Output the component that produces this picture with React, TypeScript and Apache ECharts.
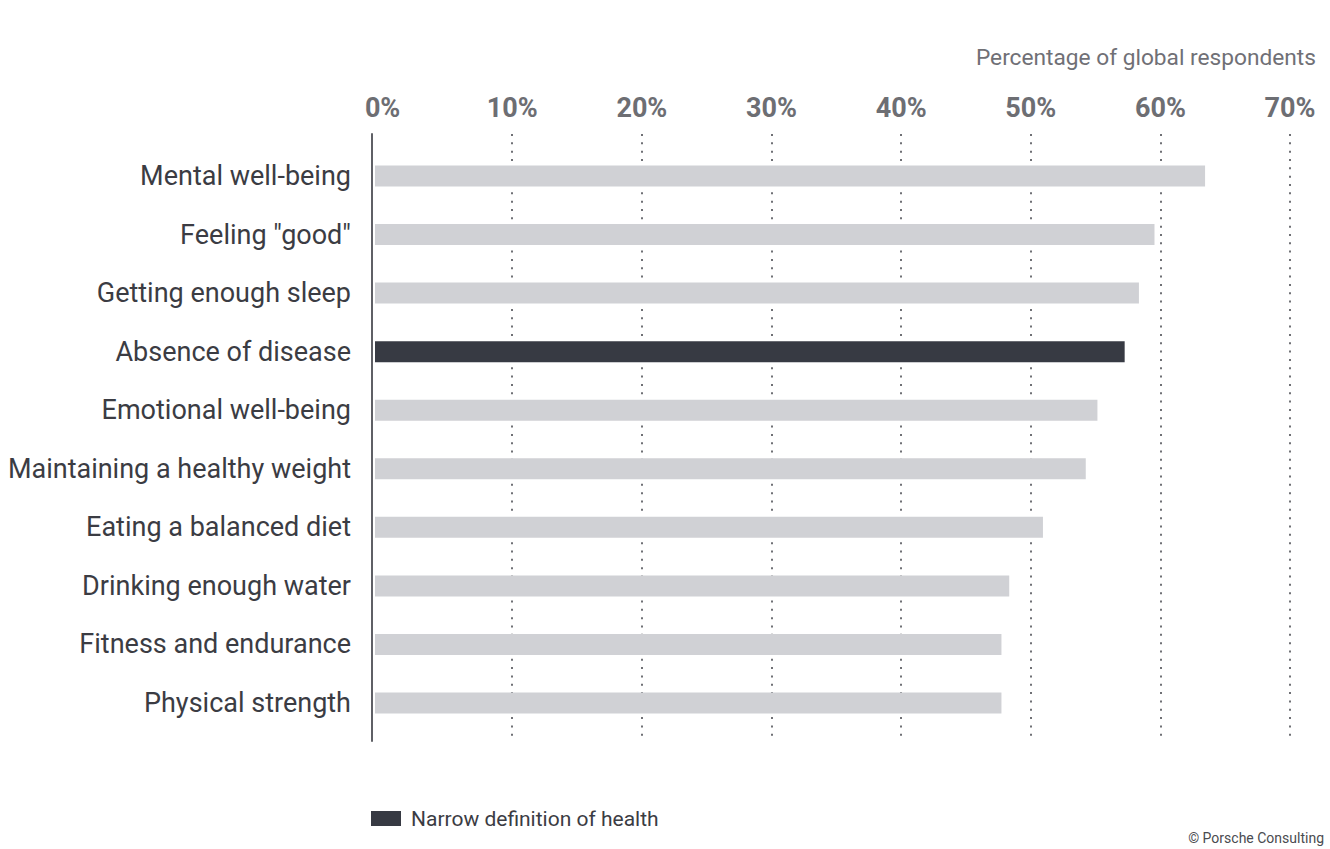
import React, { useEffect, useRef } from "react";
import * as echarts from "echarts";

const categories = [
  "Mental well-being",
  'Feeling "good"',
  "Getting enough sleep",
  "Absence of disease",
  "Emotional well-being",
  "Maintaining a healthy weight",
  "Eating a balanced diet",
  "Drinking enough water",
  "Fitness and endurance",
  "Physical strength",
];
const values = [64.0, 60.1, 58.9, 57.8, 55.7, 54.8, 51.5, 48.9, 48.3, 48.3];
const narrowCategories = ["Absence of disease"];
const narrowLabel = "Narrow definition of health";
const axisTitle = "Percentage of global respondents";
const credit = "© Porsche Consulting";
const axisMin = 0;
const axisMax = 70;
const axisStep = 10;

const FONT = "Roboto, 'Noto Sans', sans-serif";

export default function App() {
  const ref = useRef<HTMLDivElement>(null);
  useEffect(() => {
    document.body.style.margin = "0";
    if (!ref.current) return;
    const chart = echarts.init(ref.current, null, { renderer: "svg" });
    const otherData = values.map((v, i) =>
      narrowCategories.includes(categories[i]) ? "-" : v
    );
    const narrowData = values.map((v, i) =>
      narrowCategories.includes(categories[i]) ? v : "-"
    );
    chart.setOption({
      animation: false,
      backgroundColor: "#ffffff",
      textStyle: { fontFamily: FONT },
      title: [
        {
          text: axisTitle,
          right: 9,
          top: 41,
          textStyle: {
            fontFamily: FONT,
            fontWeight: "normal",
            fontSize: 22.7,
            color: "#707076",
          },
        },
        {
          text: credit,
          right: 1,
          top: 826,
          textStyle: {
            fontFamily: FONT,
            fontWeight: "normal",
            fontSize: 14,
            color: "#4a4b50",
          },
        },
      ],
      legend: {
        left: 366,
        top: 803,
        icon: "rect",
        itemWidth: 30,
        itemHeight: 15,
        data: [narrowLabel],
        textStyle: {
          fontFamily: FONT,
          fontSize: 21,
          color: "#3b3c43",
          padding: [0, 0, 0, 5],
        },
      },
      grid: [
        { left: 382.6, right: 40, top: 134, bottom: 108 },
        { left: 375, right: 47.1, top: 146.7, bottom: 116.7 },
      ],
      xAxis: [
        {
          gridIndex: 0,
          type: "value",
          position: "top",
          min: axisMin,
          max: axisMax,
          interval: axisStep,
          axisLine: { show: false },
          axisTick: { show: false },
          axisLabel: {
            formatter: "{value}%",
            fontFamily: FONT,
            fontWeight: "bold",
            fontSize: 27,
            color: "#6d6e73",
            margin: 13,
          },
          splitLine: {
            show: true,
            showMinLine: false,
            lineStyle: { color: "#6f7075", width: 2, type: [2, 6.33] },
          },
        },
        {
          gridIndex: 1,
          type: "value",
          min: axisMin,
          max: axisMax,
          show: false,
          splitLine: { show: false },
        },
      ],
      yAxis: [
        {
          gridIndex: 0,
          type: "value",
          min: 0,
          max: 1,
          offset: 10.6,
          axisLine: {
            show: true,
            onZero: false,
            lineStyle: { color: "#5f6066", width: 2 },
          },
          axisTick: { show: false },
          axisLabel: { show: false },
          splitLine: { show: false },
        },
        {
          gridIndex: 1,
          type: "category",
          inverse: true,
          data: categories,
          axisLine: { show: false },
          axisTick: { show: false },
          axisLabel: {
            fontFamily: FONT,
            fontSize: 27,
            color: "#3b3c43",
            margin: 24,
          },
          splitLine: { show: false },
        },
      ],
      series: [
        {
          name: "Other",
          type: "bar",
          xAxisIndex: 1,
          yAxisIndex: 1,
          data: otherData,
          barWidth: 21,
          barGap: "-100%",
          itemStyle: { color: "#d0d1d5" },
        },
        {
          name: narrowLabel,
          type: "bar",
          xAxisIndex: 1,
          yAxisIndex: 1,
          data: narrowData,
          barWidth: 21,
          barGap: "-100%",
          itemStyle: { color: "#373a43" },
        },
      ],
    });
    return () => chart.dispose();
  }, []);
  return <div ref={ref} style={{ width: 1330, height: 849 }} />;
}
